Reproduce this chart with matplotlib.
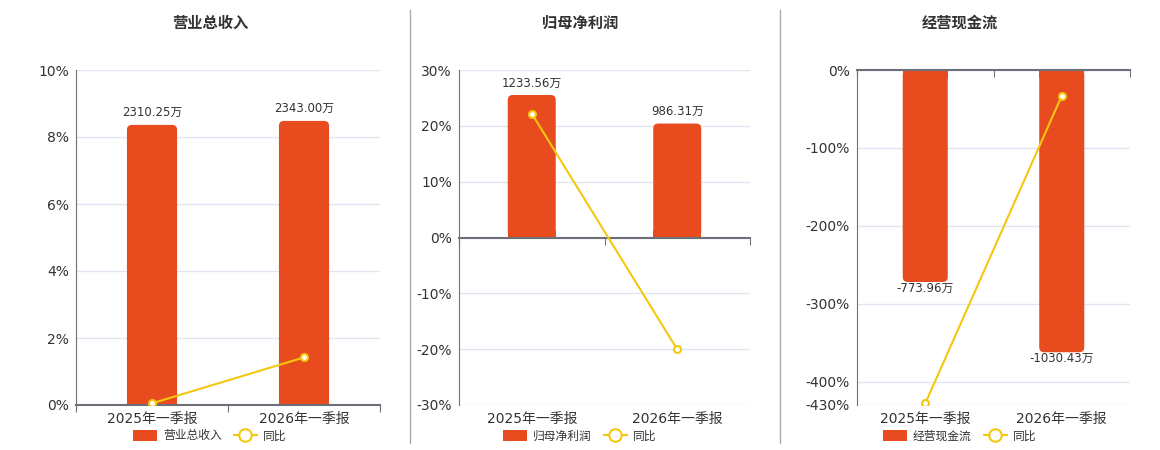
import numpy as np
import matplotlib
matplotlib.use('Agg')
import matplotlib.pyplot as plt
from matplotlib.patches import FancyBboxPatch, Rectangle, Patch
from matplotlib.lines import Line2D

plt.rcParams['font.family'] = ['DejaVu Sans', 'Noto Sans CJK SC']

# 数据
periods = ['2025年一季报', '2026年一季报']
titles = ['营业总收入', '归母净利润', '经营现金流']
revenue = [2310.25, 2343.00]
revenue_yoy = [0.05, 1.42]
profit = [1233.56, 986.31]
profit_yoy = [22.2, -20.04]
cashflow = [-773.96, -1030.43]
cashflow_yoy = [-428.0, -33.1]

pct_lims = [(0, 10), (-30, 30), (-430, 0)]
pct_ticks = [[0, 2, 4, 6, 8, 10], [-30, -20, -10, 0, 10, 20, 30],
             [-430, -400, -300, -200, -100, 0]]
bar_lims = [(0, 2763), (-1450, 1450), (-1223, 0)]

BAR = '#e84c1e'
LINE = '#f4c80f'
AXC = '#6e7079'
TXT = '#333333'
W, H = 1160, 450

fig = plt.figure(figsize=(11.6, 4.5), dpi=100)

# 像素坐标: 左, 上, 右, 下
boxes = [(76, 70, 380, 405), (459, 70, 750, 405), (857, 70, 1130, 405)]
centers = [210, 580, 960]


def round_bars(axb, bars, rect, r_px=5):
    x0, x1 = axb.get_xlim()
    y0, y1 = axb.get_ylim()
    xpp = (x1 - x0) / (rect[2] - rect[0])
    ypp = (y1 - y0) / (rect[3] - rect[1])
    for b in bars:
        x, w = b.get_x(), b.get_width()
        y, h = b.get_y(), b.get_height()
        lo, hi = min(y, y + h), max(y, y + h)
        b.set_visible(False)
        axb.add_patch(FancyBboxPatch((x, lo), w, hi - lo,
                                     boxstyle=f'round,pad=0,rounding_size={r_px * xpp}',
                                     mutation_aspect=ypp / xpp, fc=BAR, ec='none', lw=0))
        # 底部一端改回直角
        rr = r_px * ypp * 1.5
        if h >= 0:
            axb.add_patch(Rectangle((x, lo), w, rr, fc=BAR, ec='none', lw=0))
        else:
            axb.add_patch(Rectangle((x, hi - rr), w, rr, fc=BAR, ec='none', lw=0))


series = [(revenue, revenue_yoy), (profit, profit_yoy), (cashflow, cashflow_yoy)]
x = np.arange(len(periods))

for i, (vals, yoy) in enumerate(series):
    l, t, r, b = boxes[i]
    rect = [l / W, 1 - b / H, (r - l) / W, (b - t) / H]

    ax = fig.add_axes(rect)
    ax.set_xlim(-0.5, 1.5)
    ax.set_ylim(*pct_lims[i])
    ax.set_yticks(pct_ticks[i])
    ax.set_yticklabels([f'{v:g}%' for v in pct_ticks[i]])
    ax.set_xticks(x)
    ax.set_xticklabels(periods)
    ax.tick_params(axis='x', length=0, pad=5, labelsize=10, labelcolor=TXT)
    ax.tick_params(axis='y', length=0, pad=5, labelsize=10, labelcolor=TXT)
    ax.grid(axis='y', color='#e0e6f1', lw=1)
    ax.set_axisbelow(True)
    for s in ['top', 'right', 'bottom']:
        ax.spines[s].set_visible(False)
    ax.spines['left'].set_color(AXC)

    # 柱子
    axb = ax.twinx()
    axb.set_ylim(*bar_lims[i])
    axb.axis('off')
    bars = axb.bar(x, vals, width=0.33, color=BAR)
    axb.bar_label(bars, labels=[f'{v:.2f}万' for v in vals],
                  padding=4 if vals[0] > 0 else 0, fontsize=8.5, color=TXT)
    round_bars(axb, bars, (l, t, r, b))

    # 同比折线 + 零轴
    axl = fig.add_axes(rect)
    axl.patch.set_visible(False)
    axl.set_xlim(-0.5, 1.5)
    axl.set_ylim(*pct_lims[i])
    axl.plot(x, yoy, color=LINE, lw=1.5, marker='o', markersize=5,
             mfc='white', mec=LINE, mew=1.5, zorder=5)
    for s in ['top', 'right', 'left']:
        axl.spines[s].set_visible(False)
    axl.spines['bottom'].set_position(('data', 0))
    axl.spines['bottom'].set_color(AXC)
    axl.spines['bottom'].set_linewidth(1.5)
    axl.set_yticks([])
    axl.set_xticks([-0.5, 0.5, 1.5])
    axl.set_xticklabels([])
    axl.tick_params(axis='x', length=5, color=AXC, direction='out')

    cx = centers[i]
    fig.text(cx / W, 1 - 23 / H, titles[i], ha='center', va='center',
             fontsize=11, fontweight='bold', color=TXT)
    handles = [Patch(fc=BAR, ec='none'),
               Line2D([], [], color=LINE, lw=1.5, marker='o', markersize=9,
                      mfc='white', mec=LINE, mew=1.5)]
    fig.legend(handles, [titles[i], '同比'], loc='center',
               bbox_to_anchor=(cx / W, 1 - 436 / H), ncol=2, frameon=False,
               fontsize=8.5, handlelength=2.0, handleheight=1.1,
               handletextpad=0.5, columnspacing=1.0, labelcolor=TXT)

# 分隔线
for sx in [410, 780]:
    fig.add_artist(Line2D([sx / W, sx / W], [1 - 10 / H, 1 - 443 / H],
                          color='#aaaaaa', lw=1))

plt.savefig('out.png', dpi=100)
